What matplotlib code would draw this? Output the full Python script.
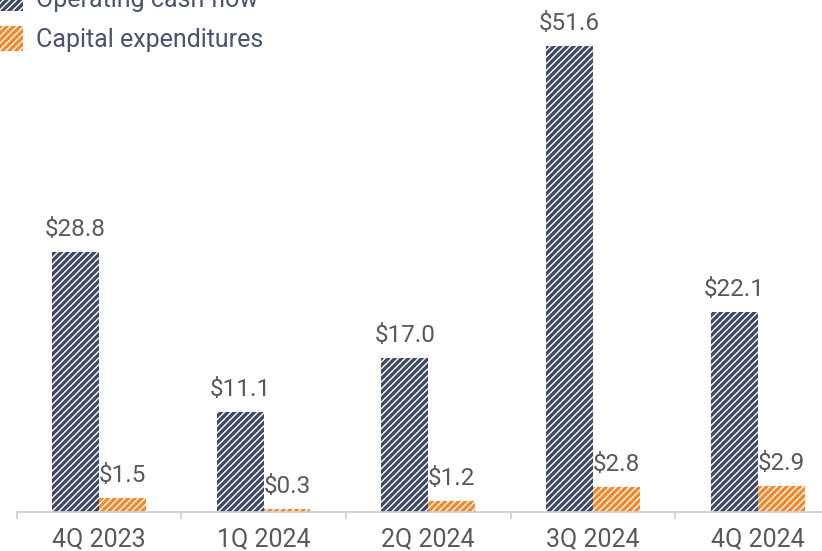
import matplotlib.pyplot as plt
import numpy as np

quarters = ['4Q 2023', '1Q 2024', '2Q 2024', '3Q 2024', '4Q 2024']
operating_cf = [28.8, 11.1, 17.0, 51.6, 22.1]
capex = [1.5, 0.3, 1.2, 2.8, 2.9]

navy = '#3e4a63'
orange = '#f5892a'
label_grey = '#595959'

plt.rcParams['font.family'] = ['Roboto', 'DejaVu Sans']
plt.rcParams['hatch.linewidth'] = 2.4

fig = plt.figure(figsize=(8.22, 5.51), dpi=100)
ax = fig.add_axes([16.5 / 822, 39 / 551, 823.5 / 822, 512 / 551])

x = np.arange(len(quarters))
w = 0.285
b1 = ax.bar(x - w / 2, operating_cf, w, color='white', edgecolor=navy,
            hatch='/////', linewidth=0, label='Operating cash flow')
b2 = ax.bar(x + w / 2, capex, w, color='white', edgecolor=orange,
            hatch='/////', linewidth=0, label='Capital expenditures')

# value labels above each bar
for bars, vals in ((b1, operating_cf), (b2, capex)):
    for r, v in zip(bars, vals):
        ax.annotate(f'${v:.1f}', (r.get_x() + r.get_width() / 2, v),
                    xytext=(0, 8), textcoords='offset points',
                    ha='center', va='bottom', fontsize=17.5, color=label_grey)

ax.set_xlim(-0.5, 4.5)
ax.set_ylim(0, 56.7)
ax.set_xticks(x)
ax.set_xticklabels(quarters, fontsize=18, color=label_grey)
ax.tick_params(axis='x', which='major', length=0, pad=11)
ax.set_xticks(np.arange(-0.5, 5, 1), minor=True)
ax.tick_params(axis='x', which='minor', length=5, color='#d0d0d0', width=1.2)
ax.set_yticks([])
for s in ('top', 'right', 'left'):
    ax.spines[s].set_visible(False)
ax.spines['bottom'].set_color('#d0d0d0')
ax.spines['bottom'].set_linewidth(1.2)

leg = fig.legend(loc='lower left', bbox_to_anchor=(0.0, 0.905), frameon=False,
                 fontsize=18, handlelength=0.92, handleheight=1.16,
                 handletextpad=0.5, labelspacing=0.56, borderpad=0,
                 borderaxespad=0)
for t in leg.get_texts():
    t.set_color('#4a5270')

fig.savefig('out.png', dpi=100)
